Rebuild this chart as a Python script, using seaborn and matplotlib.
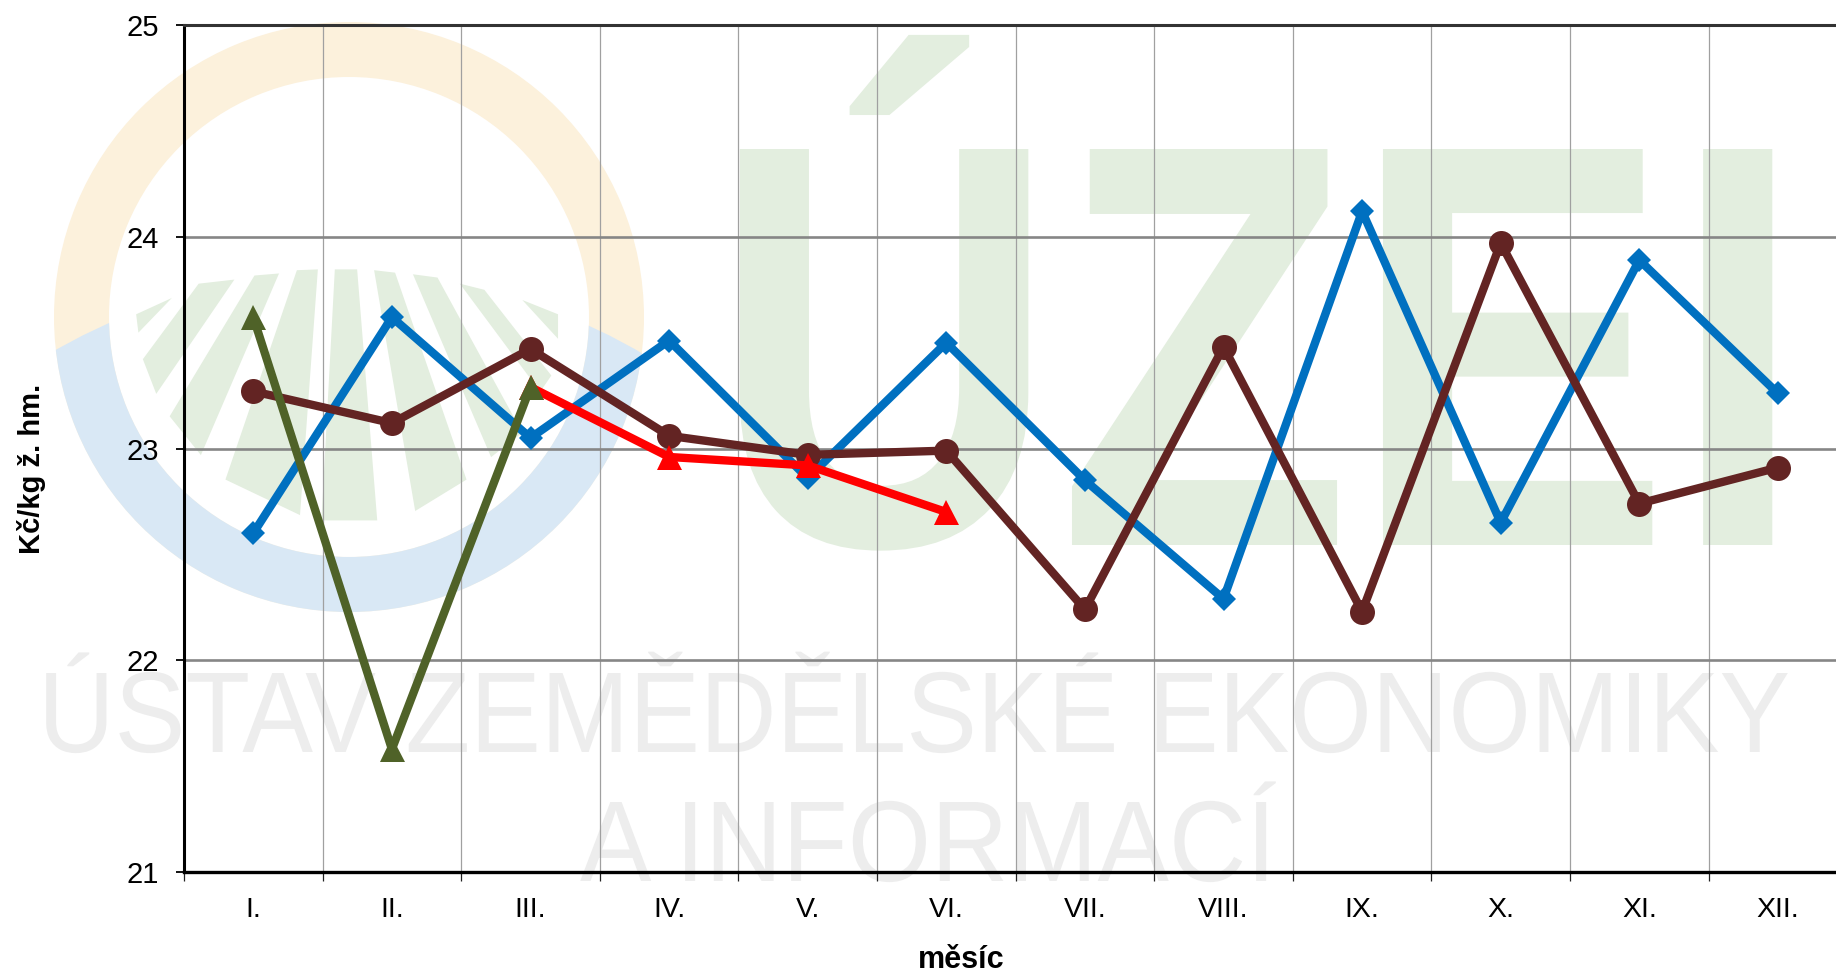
import numpy as np
import pandas as pd
import seaborn as sns
import matplotlib
matplotlib.use('Agg')
import matplotlib.pyplot as plt
import matplotlib.patheffects as pe
from matplotlib.patches import Circle, Polygon, Wedge
from matplotlib.transforms import Affine2D

months = ['I.', 'II.', 'III.', 'IV.', 'V.', 'VI.', 'VII.', 'VIII.', 'IX.', 'X.', 'XI.', 'XII.']
blue_vals = [22.60, 23.62, 23.05, 23.51, 22.86, 23.50, 22.85, 22.29, 24.12, 22.65, 23.89, 23.26]
brown_vals = [23.27, 23.12, 23.47, 23.06, 22.97, 22.99, 22.24, 23.48, 22.23, 23.97, 22.74, 22.91]
red_vals = [23.29, 22.96, 22.92, 22.70]
green_vals = [23.62, 21.58, 23.29]
y_ticks = [21, 22, 23, 24, 25]

W, H = 1836, 973


class StretchY(pe.AbstractPathEffect):
    # makes a text taller around its baseline, the logo letters are narrower than the font
    def __init__(self, y0, sy):
        super().__init__()
        self.box = Affine2D().translate(0, -y0).scale(1, sy).translate(0, y0)

    def draw_path(self, renderer, gc, tpath, affine, rgbFace=None):
        renderer.draw_path(gc, tpath, affine + self.box, rgbFace)


sns.set_theme(style='white')
plt.rcParams['font.family'] = ['Liberation Sans', 'DejaVu Sans']

fig = plt.figure(figsize=(W / 100, H / 100), dpi=100, facecolor='white')
renderer = fig.canvas.get_renderer()

# watermark sits behind the chart, in pixel coordinates
bg = fig.add_axes([0, 0, 1, 1], zorder=-1)
bg.set_xlim(0, W)
bg.set_ylim(H, 0)
bg.axis('off')

ring_c = (349, 317)
bg.add_patch(Wedge(ring_c, 295, 0, 360, width=55, fc='#FCF1DC', ec='none'))
blue_ring = Wedge(ring_c, 295, 0, 360, width=55, fc='#D9E8F5', ec='none')
bg.add_patch(blue_ring)
blue_ring.set_clip_path(Circle((346, 859), 586, transform=bg.transData))

rays = [
    [(750, 660), (800, 660), (845, 1275), (720, 1275)],
    [(665, 662), (712, 660), (672, 1262), (505, 1175)],
    [(570, 675), (625, 670), (450, 1115), (380, 1020)],
    [(445, 695), (525, 685), (350, 965), (320, 880)],
    [(305, 770), (385, 730), (310, 815)],
    [(838, 662), (885, 668), (1045, 1175), (930, 1252)],
    [(925, 672), (980, 680), (1170, 1060), (1100, 1120)],
    [(1030, 695), (1085, 710), (1235, 920), (1210, 960)],
    [(1170, 735), (1250, 770), (1250, 830)],
]
for ray in rays:
    bg.add_patch(Polygon([(x / 2.24, y / 2.45) for x, y in ray], fc='#E3EEDF', ec='none'))


def logo_text(s, x0, x1, baseline, cap, color, weight='normal'):
    t = bg.text(x0, baseline, s, fontsize=100, color=color, weight=weight,
                ha='left', va='baseline')
    size = 100 * (x1 - x0) / t.get_window_extent(renderer).width
    t.set_fontsize(size)
    sy = cap / (size * 100 / 72 * 0.688)
    t.set_path_effects([StretchY(H - baseline, sy)])
    return t


logo_text('ÚZEI', 711, 1804, 545, 396, '#E3EEDF', 'bold')
logo_text('ÚSTAV ZEMĚDĚLSKÉ EKONOMIKY', 38, 1790, 752, 79, '#EDEDED')
logo_text('A INFORMACÍ', 580, 1276, 881, 79, '#EDEDED')

ax = fig.add_axes([184 / W, 1 - 872 / H, (W - 184) / W, (872 - 25) / H])
ax.patch.set_visible(False)

xs = np.arange(len(months))
series = [
    (xs, blue_vals, '#0070C0', 'D', 12.7),
    (xs, brown_vals, '#632423', 'o', 18),
    (xs[2:6], red_vals, '#FF0000', '^', 18),
    (xs[:3], green_vals, '#4F6228', '^', 18),
]
for x, vals, color, marker, ms in series:
    df = pd.DataFrame({'month': x, 'value': vals})
    sns.lineplot(data=df, x='month', y='value', color=color, marker=marker, markersize=ms,
                 markeredgewidth=0, linewidth=6, ax=ax, zorder=3)

ax.set_ylim(21, 25)
ax.set_yticks(y_ticks)
ax.set_xticks(xs - 0.5)
ax.set_xticklabels([])
ax.set_xticks(xs, months, minor=True)
ax.set_xlim(-0.5, (W - 184) / 138.6 - 0.5)

ax.grid(True, axis='y', color='#868686', lw=1.9)
ax.grid(True, axis='x', which='major', color='#A0A0A0', lw=0.9)
ax.set_axisbelow(True)

ax.tick_params(axis='y', which='major', left=True, length=6, width=1.3, color='black',
               pad=12, labelsize=21, labelcolor='black')
ax.tick_params(axis='x', which='major', bottom=True, length=6.5, width=0.9, color='#222222')
ax.tick_params(axis='x', which='minor', bottom=False, length=0, pad=18, labelsize=20.5,
               labelcolor='black')

ax.spines['right'].set_visible(False)
ax.spines['left'].set_color('black')
ax.spines['left'].set_linewidth(2.2)
ax.spines['bottom'].set_color('black')
ax.spines['bottom'].set_linewidth(2.4)
ax.spines['top'].set_color('#333333')
ax.spines['top'].set_linewidth(2.2)

ax.set_xlabel('měsíc', fontsize=22, fontweight='bold', color='black', va='center')
ax.xaxis.set_label_coords((961 - 184) / (W - 184), (872 - 960) / 847)
ax.set_ylabel('Kč/kg ž. hm.', fontsize=21, fontweight='bold', color='black', va='center')
ax.yaxis.set_label_coords((32 - 184) / (W - 184), (872 - 469) / 847)

fig.savefig('out.png', dpi=100)
